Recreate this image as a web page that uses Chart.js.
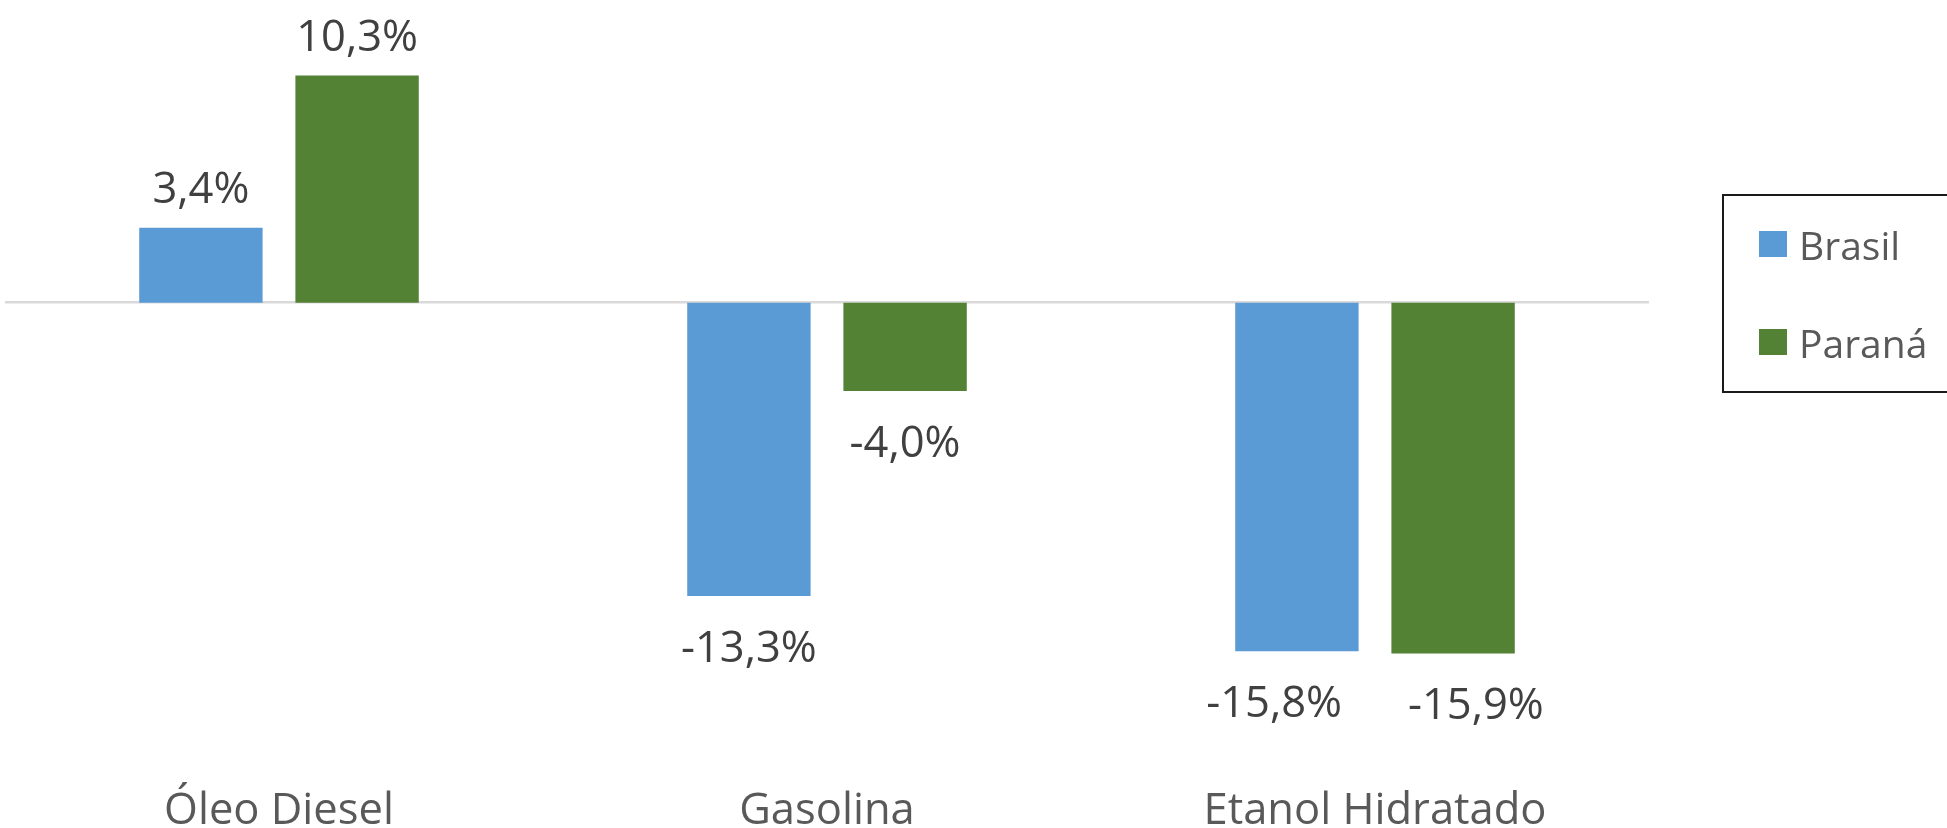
<!DOCTYPE html>
<html lang="pt-BR">
<head>
<meta charset="utf-8">
<title>Variação das vendas de combustíveis</title>
<script src="https://cdn.jsdelivr.net/npm/chart.js@4.4.1/dist/chart.umd.min.js"></script>
<style>
  html, body { margin: 0; padding: 0; background: #fff; overflow: hidden; }
  #wrap { position: relative; width: 1947px; height: 828px; }
  #legendBox {
    position: absolute; left: 1722px; top: 194px; width: 260px; height: 195px;
    border: 2px solid #1a1a1a; box-sizing: content-box;
    font-family: "Open Sans", sans-serif; font-size: 39px; color: #595959;
  }
  #legendBox ul { list-style: none; margin: 0; padding: 23px 0 0 35px; }
  #legendBox li { display: flex; align-items: center; height: 50px; margin-bottom: 48px; white-space: nowrap; }
  #legendBox li span.sw { display: inline-block; width: 28px; height: 26px; margin-right: 12px; }
</style>
</head>
<body>
<div id="wrap">
  <canvas id="fuelChart"></canvas>
  <div id="legendBox"></div>
</div>
<script>
// data (% change)
const categories = ['Óleo Diesel', 'Gasolina', 'Etanol Hidratado'];
const seriesNames = ['Brasil', 'Paraná'];
const brasilValues = [3.4, -13.3, -15.8];
const paranaValues = [10.3, -4.0, -15.9];
const palette = ['#5B9BD5', '#548235'];

const FONT = '"Open Sans", sans-serif';
const MIN_LABEL_GAP = 66; // labels on the same row get pushed apart like excel does

function fmtPct(v){
  return v.toFixed(1).replace('.', ',') + '%';
}

// value labels above / below each bar
const valueLabels = {
  id: 'valueLabels',
  afterDatasetsDraw(chart){
    const ctx = chart.ctx;
    ctx.save();
    ctx.font = '43.5px ' + FONT;
    ctx.fillStyle = '#404040';
    ctx.textAlign = 'center';
    ctx.textBaseline = 'alphabetic';
    const n = chart.data.labels.length;
    for(let j = 0; j < n; j++){
      const items = chart.data.datasets.map((ds, i) => {
        const bar = chart.getDatasetMeta(i).data[j];
        const v = ds.data[j];
        const text = fmtPct(v);
        return { text, x: bar.x, y: v >= 0 ? bar.y - 25 : bar.y + 66, w: ctx.measureText(text).width };
      });
      // push apart two labels that sit on about the same line
      const a = items[0], b = items[1];
      if(a && b && Math.abs(a.y - b.y) < 40){
        const gap = (b.x - b.w/2) - (a.x + a.w/2);
        if(gap < MIN_LABEL_GAP){
          const d = (MIN_LABEL_GAP - gap) / 2;
          a.x -= d; b.x += d;
        }
      }
      items.forEach(it => ctx.fillText(it.text, it.x, it.y));
    }
    ctx.restore();
  }
};

// html legend with a framed box like the original
const htmlLegend = {
  id: 'htmlLegend',
  afterUpdate(chart){
    const box = document.getElementById('legendBox');
    const items = chart.options.plugins.legend.labels.generateLabels(chart);
    const ul = document.createElement('ul');
    items.forEach(item => {
      const li = document.createElement('li');
      const sw = document.createElement('span');
      sw.className = 'sw';
      sw.style.background = item.fillStyle;
      const txt = document.createElement('span');
      txt.textContent = item.text;
      li.appendChild(sw); li.appendChild(txt);
      ul.appendChild(li);
    });
    box.innerHTML = '';
    box.appendChild(ul);
  }
};

const ctx = document.getElementById('fuelChart');
new Chart(ctx, {
  type: 'bar',
  data: {
    labels: categories,
    datasets: [
      { label: seriesNames[0], data: brasilValues, backgroundColor: palette[0] },
      { label: seriesNames[1], data: paranaValues, backgroundColor: palette[1] }
    ]
  },
  options: {
    responsive: true,
    maintainAspectRatio: false,
    animation: false,
    categoryPercentage: 0.57,
    barPercentage: 0.79,
    // bottom < 0: the category labels run off the bottom edge like in the source
    layout: { padding: { left: 5, right: 298, top: 5, bottom: -29 } },
    plugins: {
      legend: { display: false },
      tooltip: { enabled: false }
    },
    scales: {
      x: {
        grid: { display: false, drawTicks: false },
        border: { display: false },
        ticks: {
          padding: 24, maxRotation: 0, autoSkip: false,
          color: '#595959',
          font: { family: FONT, size: 43.5, lineHeight: 0.9655 }
        }
      },
      y: {
        min: -21.05, max: 13.5,
        ticks: { display: false, stepSize: 0.05 },
        border: { display: false },
        grid: {
          drawTicks: false,
          lineWidth: 2.5,
          color: c => (c.tick && Math.abs(c.tick.value) < 1e-9) ? '#d9d9d9' : 'rgba(0,0,0,0)'
        }
      }
    }
  },
  plugins: [valueLabels, htmlLegend]
});
</script>
</body>
</html>
